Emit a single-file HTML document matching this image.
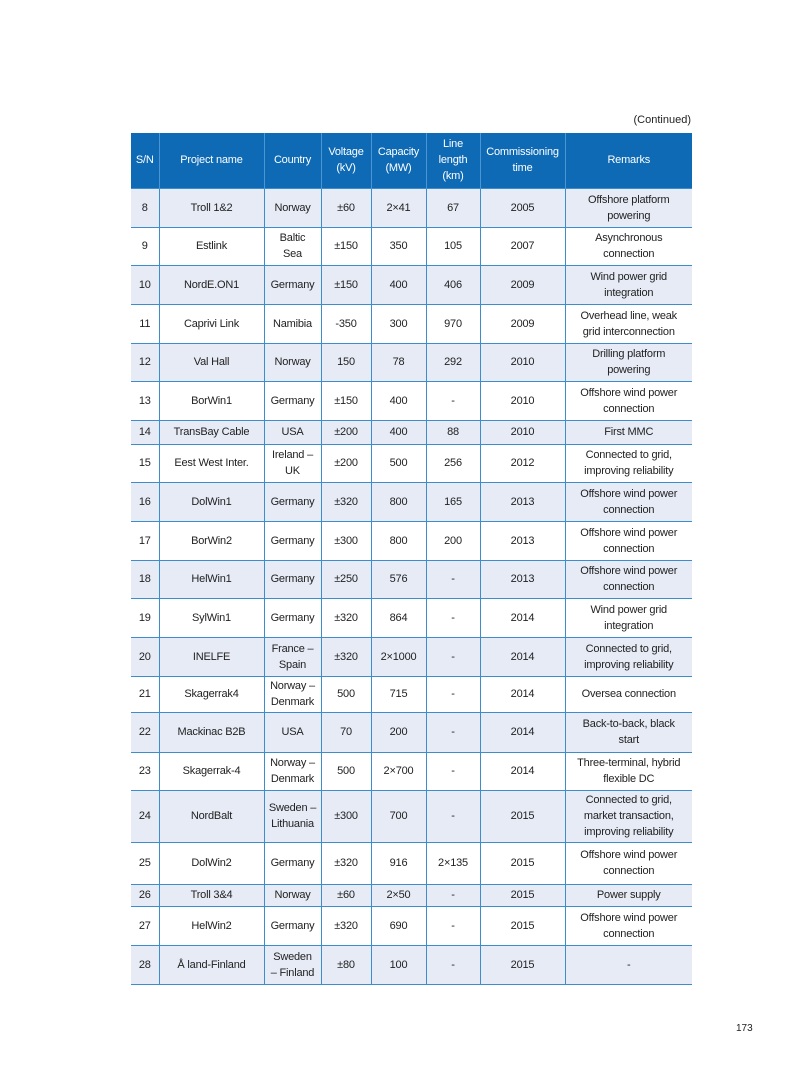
<!DOCTYPE html>
<html><head><meta charset="utf-8"><style>
body{margin:0;width:793px;height:1077px;background:#fff;position:relative;font-family:"Liberation Sans",sans-serif;color:#222}
.c{position:absolute;top:114px;right:102px;font-size:11px}
.pn{position:absolute;top:1023px;left:736px;font-size:10px}
table{position:absolute;left:131px;top:133px;border-collapse:collapse;table-layout:fixed;width:561px;font-size:11px;letter-spacing:-0.2px}
td,th{border:1.5px solid #3d8ccc;text-align:center;vertical-align:middle;padding:0 2px;line-height:16px}
th{background:#0e6ab4;color:#fff;font-weight:normal;border-color:#4a95d3;border-top:none;border-bottom:none}
th:first-child{border-left:none}th:last-child{border-right:none}
tr.e td{background:#e6ebf6}
td:first-child{border-left:none}td:last-child{border-right:none}
tr:last-child td{border-bottom:1.5px solid #3d8ccc}
</style></head><body>
<div class="c">(Continued)</div>
<table>
<colgroup><col style="width:28px"><col style="width:105px"><col style="width:57px"><col style="width:50px"><col style="width:55px"><col style="width:54px"><col style="width:85px"><col style="width:127px"></colgroup>
<tr style="height:55px"><th>S/N</th><th>Project name</th><th>Country</th><th>Voltage<br>(kV)</th><th>Capacity<br>(MW)</th><th>Line<br>length<br>(km)</th><th>Commissioning<br>time</th><th>Remarks</th></tr>
<tr class="e" style="height:39px"><td>8</td><td>Troll 1&amp;2</td><td>Norway</td><td>±60</td><td>2×41</td><td>67</td><td>2005</td><td>Offshore platform<br>powering</td></tr>
<tr style="height:38px"><td>9</td><td>Estlink</td><td>Baltic<br>Sea</td><td>±150</td><td>350</td><td>105</td><td>2007</td><td>Asynchronous<br>connection</td></tr>
<tr class="e" style="height:39px"><td>10</td><td>NordE.ON1</td><td>Germany</td><td>±150</td><td>400</td><td>406</td><td>2009</td><td>Wind power grid<br>integration</td></tr>
<tr style="height:39px"><td>11</td><td>Caprivi Link</td><td>Namibia</td><td>-350</td><td>300</td><td>970</td><td>2009</td><td>Overhead line, weak<br>grid interconnection</td></tr>
<tr class="e" style="height:38px"><td>12</td><td>Val Hall</td><td>Norway</td><td>150</td><td>78</td><td>292</td><td>2010</td><td>Drilling platform<br>powering</td></tr>
<tr style="height:39px"><td>13</td><td>BorWin1</td><td>Germany</td><td>±150</td><td>400</td><td>-</td><td>2010</td><td>Offshore wind power<br>connection</td></tr>
<tr class="e" style="height:24px"><td>14</td><td>TransBay Cable</td><td>USA</td><td>±200</td><td>400</td><td>88</td><td>2010</td><td>First MMC</td></tr>
<tr style="height:38px"><td>15</td><td>Eest West Inter.</td><td>Ireland –<br>UK</td><td>±200</td><td>500</td><td>256</td><td>2012</td><td>Connected to grid,<br>improving reliability</td></tr>
<tr class="e" style="height:39px"><td>16</td><td>DolWin1</td><td>Germany</td><td>±320</td><td>800</td><td>165</td><td>2013</td><td>Offshore wind power<br>connection</td></tr>
<tr style="height:39px"><td>17</td><td>BorWin2</td><td>Germany</td><td>±300</td><td>800</td><td>200</td><td>2013</td><td>Offshore wind power<br>connection</td></tr>
<tr class="e" style="height:38px"><td>18</td><td>HelWin1</td><td>Germany</td><td>±250</td><td>576</td><td>-</td><td>2013</td><td>Offshore wind power<br>connection</td></tr>
<tr style="height:39px"><td>19</td><td>SylWin1</td><td>Germany</td><td>±320</td><td>864</td><td>-</td><td>2014</td><td>Wind power grid<br>integration</td></tr>
<tr class="e" style="height:39px"><td>20</td><td>INELFE</td><td>France –<br>Spain</td><td>±320</td><td>2×1000</td><td>-</td><td>2014</td><td>Connected to grid,<br>improving reliability</td></tr>
<tr style="height:36px"><td>21</td><td>Skagerrak4</td><td>Norway –<br>Denmark</td><td>500</td><td>715</td><td>-</td><td>2014</td><td>Oversea connection</td></tr>
<tr class="e" style="height:40px"><td>22</td><td>Mackinac B2B</td><td>USA</td><td>70</td><td>200</td><td>-</td><td>2014</td><td>Back-to-back, black<br>start</td></tr>
<tr style="height:38px"><td>23</td><td>Skagerrak-4</td><td>Norway –<br>Denmark</td><td>500</td><td>2×700</td><td>-</td><td>2014</td><td>Three-terminal, hybrid<br>flexible DC</td></tr>
<tr class="e" style="height:52px"><td>24</td><td>NordBalt</td><td>Sweden –<br>Lithuania</td><td>±300</td><td>700</td><td>-</td><td>2015</td><td>Connected to grid,<br>market transaction,<br>improving reliability</td></tr>
<tr style="height:42px"><td>25</td><td>DolWin2</td><td>Germany</td><td>±320</td><td>916</td><td>2×135</td><td>2015</td><td>Offshore wind power<br>connection</td></tr>
<tr class="e" style="height:22px"><td>26</td><td>Troll 3&amp;4</td><td>Norway</td><td>±60</td><td>2×50</td><td>-</td><td>2015</td><td>Power supply</td></tr>
<tr style="height:39px"><td>27</td><td>HelWin2</td><td>Germany</td><td>±320</td><td>690</td><td>-</td><td>2015</td><td>Offshore wind power<br>connection</td></tr>
<tr class="e" style="height:39px"><td>28</td><td>Å land-Finland</td><td>Sweden<br>– Finland</td><td>±80</td><td>100</td><td>-</td><td>2015</td><td>-</td></tr>
</table>
<div class="pn">173</div>
</body></html>
